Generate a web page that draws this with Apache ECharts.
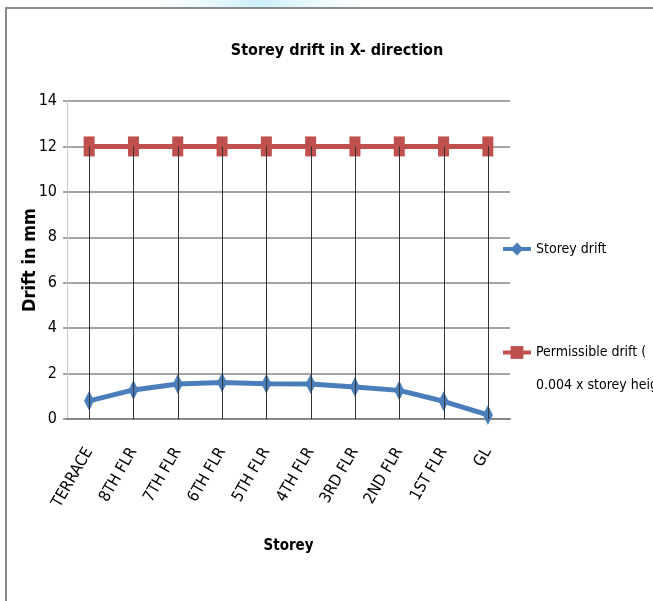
<!DOCTYPE html>
<html>
<head>
<meta charset="utf-8">
<script src="https://cdn.jsdelivr.net/npm/echarts@6/dist/echarts.min.js"></script>
<style>
html,body{margin:0;padding:0;background:#fff;}
#chart{width:653px;height:601px;}
</style>
</head>
<body>
<div id="chart"></div>
<script>
var categories = ['TERRACE','8TH FLR','7TH FLR','6TH FLR','5TH FLR','4TH FLR','3RD FLR','2ND FLR','1ST FLR','GL'];
var storeyDrift = [0.8, 1.28, 1.54, 1.61, 1.55, 1.54, 1.41, 1.26, 0.78, 0.18];
var permissibleDrift = [12, 12, 12, 12, 12, 12, 12, 12, 12, 12];
var yTicks = {min: 0, max: 14, interval: 2};

var FONT = '"Liberation Sans Narrow", "DejaVu Sans Condensed", sans-serif';
var chart = echarts.init(document.getElementById('chart'));

var dropData = categories.map(function (c, i) {
  return [i, Math.max(storeyDrift[i], permissibleDrift[i])];
});

chart.setOption({
  animation: false,
  backgroundColor: '#fff',
  title: {
    text: 'Storey drift in X- direction',
    left: 332, top: 38, textAlign: 'center',
    textStyle: {fontFamily: FONT, fontWeight: 'bold', fontSize: 16, color: '#000'}
  },
  graphic: [
    {type: 'rect', shape: {x: 150, y: 0, width: 220, height: 7},
     style: {fill: new echarts.graphic.LinearGradient(0, 0, 1, 0, [
       {offset: 0, color: 'rgba(220,245,252,0)'},
       {offset: 0.5, color: 'rgba(205,240,250,1)'},
       {offset: 1, color: 'rgba(220,245,252,0)'}])}, silent: true},
    {type: 'line', shape: {x1: 5, y1: 8, x2: 653, y2: 8}, style: {stroke: '#8a8a8a', lineWidth: 2}, silent: true},
    {type: 'line', shape: {x1: 6, y1: 8, x2: 6, y2: 601}, style: {stroke: '#8a8a8a', lineWidth: 2}, silent: true}
  ],
  legend: [
    {
      data: ['Storey drift'],
      orient: 'vertical', left: 496, top: 237,
      itemWidth: 28, itemHeight: 16,
      lineStyle: {width: 4},
      textStyle: {fontFamily: FONT, fontSize: 14, color: '#000'}
    },
    {
      data: ['Permissible drift (\n0.004 x storey height'],
      orient: 'vertical', left: 496, top: 298,
      itemWidth: 28, itemHeight: 16,
      lineStyle: {width: 4},
      formatter: function (name) { return ' \n' + name; },
      textStyle: {fontFamily: FONT, fontSize: 14, color: '#000', lineHeight: 33}
    }
  ],
  grid: {left: 67, top: 101, width: 443, height: 318},
  xAxis: {
    type: 'category',
    data: categories,
    boundaryGap: true,
    axisLine: {lineStyle: {color: '#868686', width: 2}},
    axisTick: {show: false},
    axisLabel: {rotate: 60, margin: 30, interval: 0, fontFamily: FONT, fontSize: 16, color: '#000'},
    name: 'Storey', nameLocation: 'middle', nameGap: 120, nameMoveOverlap: false,
    nameTextStyle: {fontFamily: FONT, fontWeight: 'bold', fontSize: 15, color: '#000'}
  },
  yAxis: {
    type: 'value',
    min: yTicks.min, max: yTicks.max, interval: yTicks.interval,
    axisLine: {show: true, lineStyle: {color: '#c8c8c8', width: 1}},
    axisTick: {show: true, length: 4, lineStyle: {color: '#868686', width: 1.5}},
    splitLine: {lineStyle: {color: '#868686', width: 1.5}},
    axisLabel: {margin: 10, fontFamily: FONT, fontSize: 16, color: '#000'},
    name: 'Drift in mm', nameLocation: 'middle', nameGap: 28, nameRotate: 90, nameMoveOverlap: false,
    nameTextStyle: {fontFamily: FONT, fontWeight: 'bold', fontSize: 18, color: '#000'}
  },
  series: [
    {
      name: 'Storey drift', type: 'line', data: storeyDrift,
      symbol: 'diamond', symbolSize: [10, 20],
      lineStyle: {color: '#4a7ebb', width: 5},
      itemStyle: {color: '#4a7ebb'}, z: 3
    },
    {
      name: 'Permissible drift (\n0.004 x storey height', type: 'line', data: permissibleDrift,
      symbol: 'rect', symbolSize: [11, 20],
      lineStyle: {color: '#c0504d', width: 5},
      itemStyle: {color: '#c0504d'}, z: 3
    },
    {
      name: 'drop', type: 'custom', data: dropData, z: 5, silent: true,
      renderItem: function (params, api) {
        var p0 = api.coord([api.value(0), 0]);
        var p1 = api.coord([api.value(0), api.value(1)]);
        return {type: 'line', shape: {x1: Math.round(p0[0]) + 0.5, y1: p0[1], x2: Math.round(p1[0]) + 0.5, y2: p1[1]},
                style: {stroke: '#333', lineWidth: 1}};
      }
    }
  ]
});
</script>
</body>
</html>
